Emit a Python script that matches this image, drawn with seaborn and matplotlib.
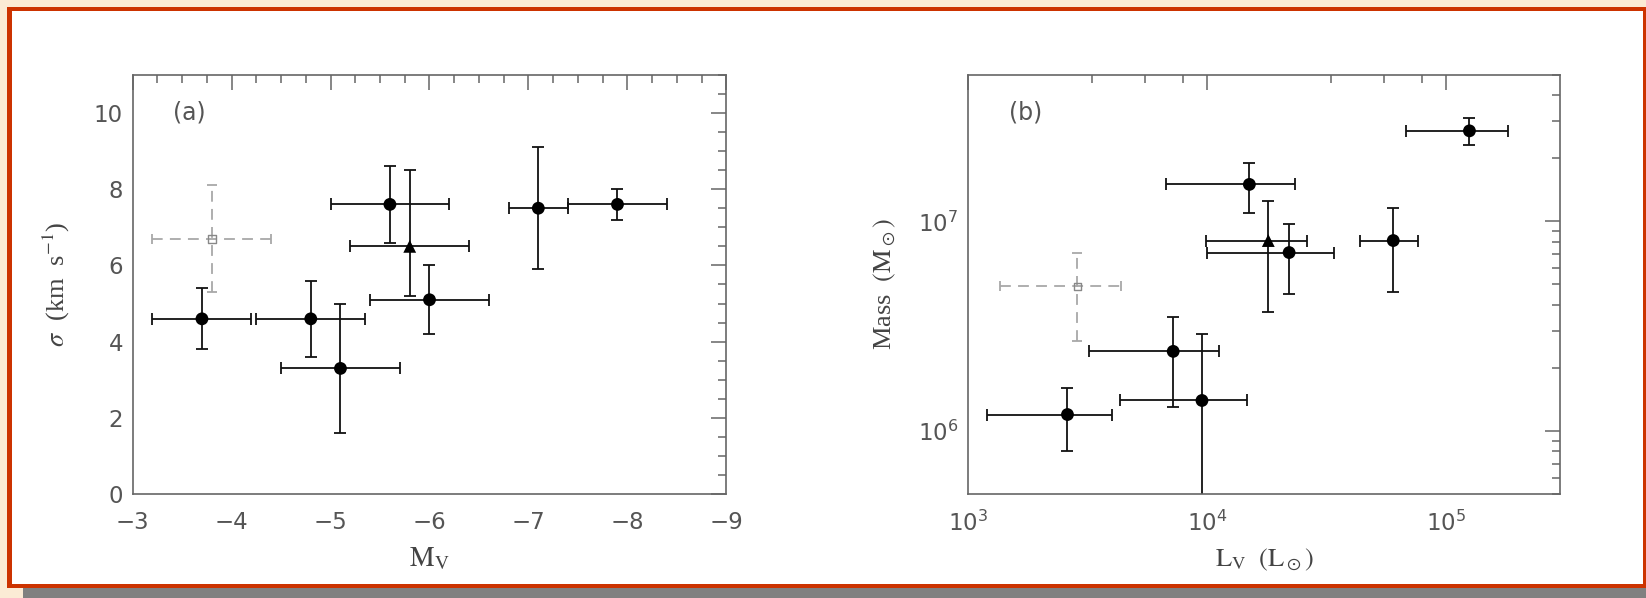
import numpy as np
import pandas as pd
import matplotlib
matplotlib.use("Agg")
import matplotlib.pyplot as plt
import seaborn as sns
from matplotlib.patches import Rectangle
from matplotlib.ticker import MultipleLocator, LogLocator, NullFormatter

# ---- panel (a): velocity dispersion vs absolute magnitude ----
mv = [-3.7, -4.8, -5.1, -5.6, -6.0, -7.1, -7.9]
mv_err = [0.5, 0.55, 0.6, 0.6, 0.6, 0.3, 0.5]
sigma = [4.6, 4.6, 3.3, 7.6, 5.1, 7.5, 7.6]
sigma_err = [0.8, 1.0, 1.7, 1.0, 0.9, 1.6, 0.4]

tri_mv = [-5.8]
tri_mv_err = [0.6]
tri_sigma = [6.5]
tri_sigma_lo = [1.3]
tri_sigma_hi = [2.0]

sq_mv = [-3.8]
sq_mv_err = [0.6]
sq_sigma = [6.7]
sq_sigma_err = [1.4]

# ---- panel (b): mass vs luminosity ----
lv = [2.6e3, 7.2e3, 9.5e3, 1.5e4, 2.2e4, 6.0e4, 1.25e5]
lv_err = [1.4e3, 4.0e3, 5.2e3, 8.3e3, 1.2e4, 1.65e4, 5.7e4]
mass = [1.2e6, 2.4e6, 1.4e6, 1.5e7, 7.1e6, 8.1e6, 2.7e7]
mass_err = [0.4e6, 1.1e6, 1.5e6, 0.4e7, 2.6e6, 3.5e6, 0.4e7]

tri_lv = [1.8e4]
tri_lv_err = [8.1e3]
tri_mass = [8.1e6]
tri_mass_err = [4.4e6]

sq_lv = [2.86e3]
sq_lv_err = [1.5e3]
sq_mass = [4.9e6]
sq_mass_err = [2.2e6]

sns.set_theme(style="white")
plt.rcParams["font.family"] = ["DejaVu Sans"]
plt.rcParams["mathtext.fontset"] = "dejavusans"

W, H = 1646, 598
fig = plt.figure(figsize=(W / 100, H / 100), dpi=100)
fig.patch.set_facecolor("#fbebd5")

# page frame: red border, white panel, grey strip underneath
fig.patches.append(Rectangle((7 / W, 1 - 588 / H), (W - 7) / W, (588 - 7) / H,
                             transform=fig.transFigure, facecolor="#cc3300",
                             edgecolor="none", zorder=-3))
fig.patches.append(Rectangle((11.5 / W, 1 - 584 / H), (1642.5 - 11.5) / W, (584 - 11) / H,
                             transform=fig.transFigure, facecolor="white",
                             edgecolor="none", zorder=-2))
fig.patches.append(Rectangle((23 / W, 0), (W - 23) / W, 10 / H,
                             transform=fig.transFigure, facecolor="#808080",
                             edgecolor="none", zorder=-2))

bottom = 1 - 494.3 / H
height = (494.3 - 74.7) / H
ax_a = fig.add_axes([132.7 / W, bottom, (726.3 - 132.7) / W, height])
ax_b = fig.add_axes([968.3 / W, bottom, (1560.3 - 968.3) / W, height])

INK = "#111111"
DASHED = "#a8a8a8"
SPINE = "#666666"
TXT = "#555555"
LAB = "#444444"


def style_axes(ax):
    ax.set_facecolor("none")
    for s in ax.spines.values():
        s.set_color(SPINE)
        s.set_linewidth(1.2)
        s.set_visible(True)
    ax.tick_params(which="both", direction="in", top=True, right=True,
                   color=SPINE, width=1.1, labelcolor=TXT, labelsize=16.5)
    ax.tick_params(which="major", length=11)
    ax.tick_params(which="minor", length=6)
    ax.tick_params(axis="x", pad=12)
    ax.tick_params(axis="y", pad=7)


def draw_panel(ax, x, y, xe, ye, tx, ty, txe, tye, sx, sy, sxe, sye):
    # error bars
    ax.errorbar(x, y, xerr=xe, yerr=ye, fmt="none", ecolor=INK,
                elinewidth=1.3, capsize=4.5, capthick=1.3, zorder=2)
    ax.errorbar(tx, ty, xerr=txe, yerr=tye, fmt="none", ecolor=INK,
                elinewidth=1.3, capsize=4.5, capthick=1.3, zorder=2)
    eb = ax.errorbar(sx, sy, xerr=sxe, yerr=sye, fmt="none", ecolor=DASHED,
                     elinewidth=1.3, capsize=3.5, capthick=1.3, zorder=2)
    for lc in eb[2]:
        lc.set_linestyle((0, (6, 4)))
    # markers
    sns.scatterplot(x=x, y=y, ax=ax, marker="o", s=85, color="black",
                    edgecolor="none", zorder=3, legend=False)
    sns.scatterplot(x=tx, y=ty, ax=ax, marker="^", s=85, color="black",
                    edgecolor="none", zorder=3, legend=False)
    sns.scatterplot(x=sx, y=sy, ax=ax, marker="s", s=30, facecolor="none",
                    edgecolor="#888888", linewidth=1.0, zorder=3, legend=False)


# panel (a)
style_axes(ax_a)
draw_panel(ax_a, mv, sigma, mv_err, sigma_err,
           tri_mv, tri_sigma, tri_mv_err, [tri_sigma_lo, tri_sigma_hi],
           sq_mv, sq_sigma, sq_mv_err, sq_sigma_err)
ax_a.set_xlim(-3, -9)
ax_a.set_ylim(0, 11)
ax_a.xaxis.set_major_locator(MultipleLocator(1))
ax_a.xaxis.set_minor_locator(MultipleLocator(0.25))
ax_a.yaxis.set_major_locator(MultipleLocator(2))
ax_a.yaxis.set_minor_locator(MultipleLocator(0.5))
ax_a.set_xlabel(r"$\mathrm{M_V}$", fontsize=20, color=LAB,
                math_fontfamily="stix", va="center")
ax_a.set_ylabel(r"$\sigma$  (km  s$^{-1}$)", fontsize=19, color=LAB,
                family="Liberation Serif", math_fontfamily="stix", va="center")
ax_a.xaxis.set_label_coords(0.5, -0.152)
ax_a.yaxis.set_label_coords(-0.128, 0.5)
ax_a.text(0.068, 0.911, "(a)", transform=ax_a.transAxes, fontsize=17,
          color=TXT, va="center", ha="left")

# panel (b)
style_axes(ax_b)
ax_b.set_xscale("log")
ax_b.set_yscale("log")
draw_panel(ax_b, lv, mass, lv_err, mass_err,
           tri_lv, tri_mass, tri_lv_err, tri_mass_err,
           sq_lv, sq_mass, sq_lv_err, sq_mass_err)
ax_b.set_xlim(1e3, 3e5)
ax_b.set_ylim(5e5, 5e7)
ax_b.xaxis.set_major_locator(LogLocator(base=10))
ax_b.xaxis.set_minor_locator(LogLocator(base=10, subs=[3.3, 5.5, 7.9]))
ax_b.xaxis.set_minor_formatter(NullFormatter())
ax_b.yaxis.set_major_locator(LogLocator(base=10))
ax_b.yaxis.set_minor_locator(LogLocator(base=10, subs=np.arange(2, 10)))
ax_b.yaxis.set_minor_formatter(NullFormatter())
ax_b.set_xlabel(r"$\mathrm{L_V\ \ (L_\odot)}$", fontsize=19, color=LAB,
                math_fontfamily="stix", va="center")
ax_b.set_ylabel(r"Mass  $\mathrm{(M_\odot)}$", fontsize=19, color=LAB,
                family="Liberation Serif", math_fontfamily="stix", va="center")
ax_b.xaxis.set_label_coords(0.5, -0.155)
ax_b.yaxis.set_label_coords(-0.141, 0.5)
ax_b.text(0.068, 0.911, "(b)", transform=ax_b.transAxes, fontsize=17,
          color=TXT, va="center", ha="left")

fig.savefig("out.png", dpi=100)
